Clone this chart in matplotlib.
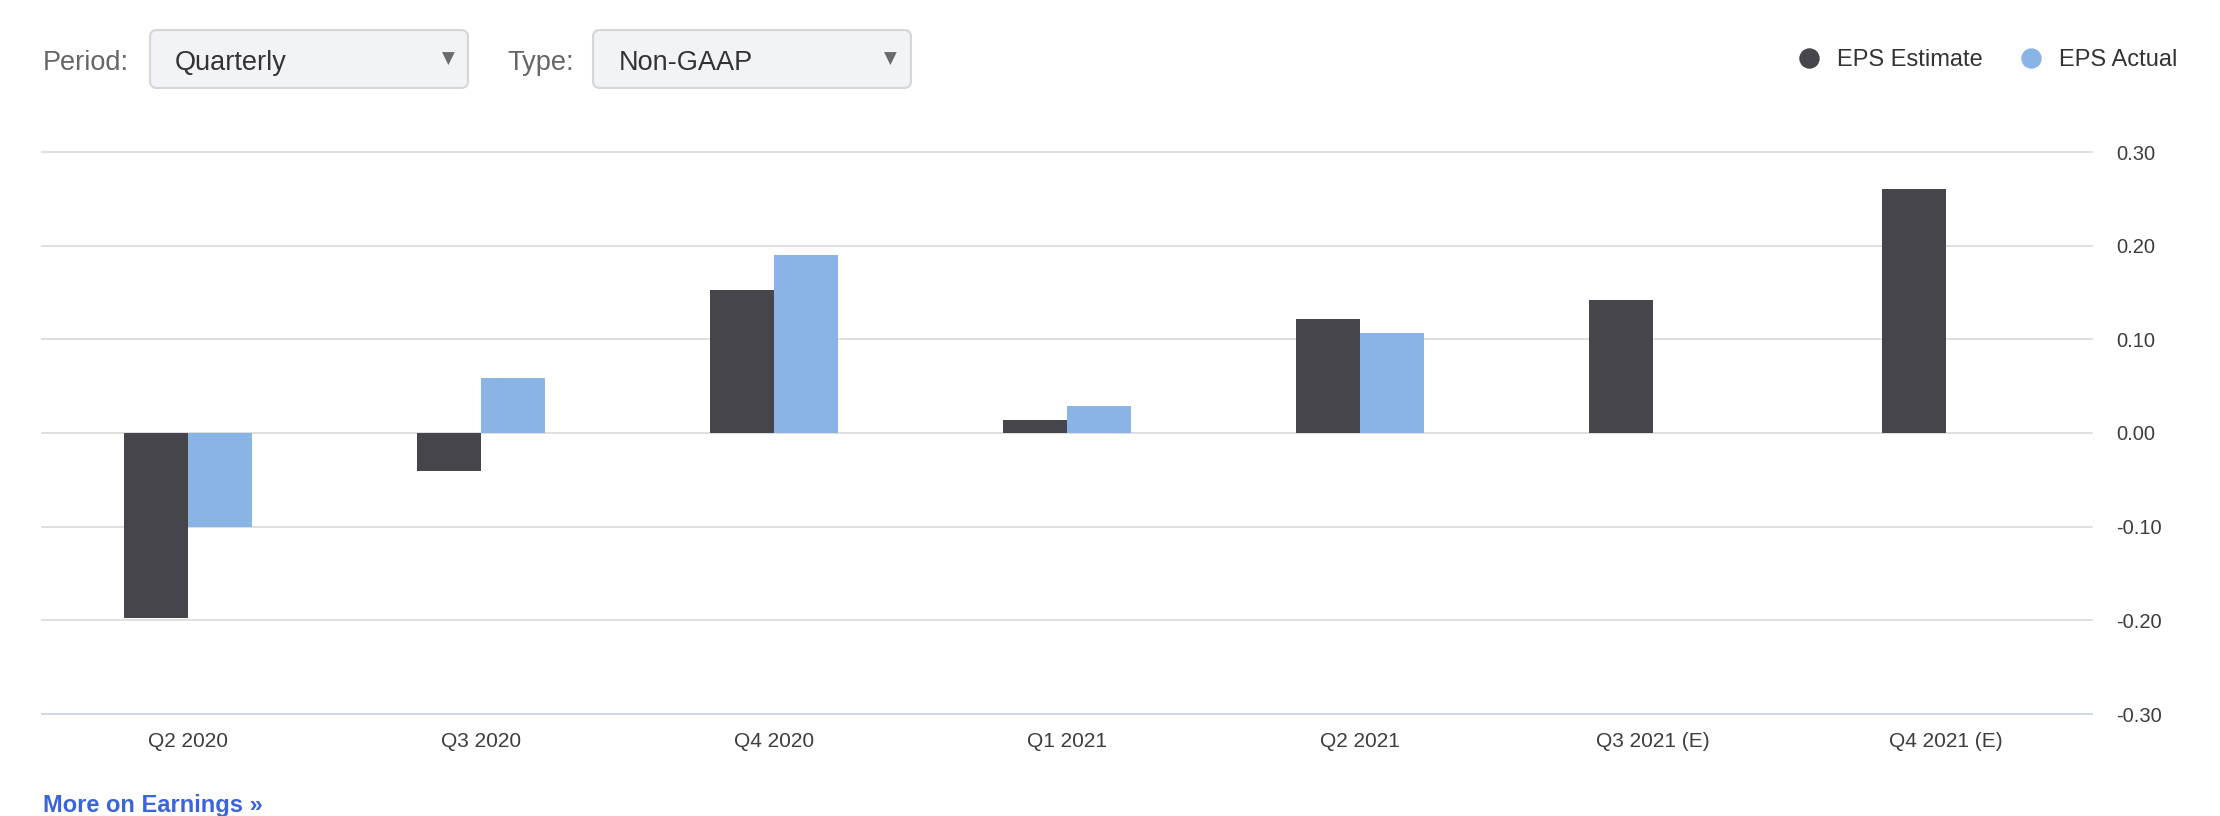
import matplotlib
matplotlib.use('Agg')
import matplotlib.pyplot as plt
import numpy as np
from matplotlib.patches import FancyBboxPatch
from matplotlib.lines import Line2D

# ---- data ----
categories = ["Q2 2020", "Q3 2020", "Q4 2020", "Q1 2021", "Q2 2021", "Q3 2021 (E)", "Q4 2021 (E)"]
eps_estimate = [-0.197, -0.041, 0.153, 0.014, 0.122, 0.142, 0.261]
eps_actual = [-0.100, 0.059, 0.190, 0.029, 0.107, np.nan, np.nan]
y_ticks = [-0.30, -0.20, -0.10, 0.00, 0.10, 0.20, 0.30]
series_names = ["EPS Estimate", "EPS Actual"]
period_label = "Period:"
period_value = "Quarterly"
type_label = "Type:"
type_value = "Non-GAAP"
link_text = "More on Earnings »"

# ---- style ----
W, H = 2220, 816
plt.rcParams['font.family'] = ['Liberation Sans', 'DejaVu Sans']
c_est = '#45454b'
c_act = '#8ab4e6'
c_text = '#3d3d3d'

fig = plt.figure(figsize=(W / 100, H / 100), dpi=100)
fig.patch.set_facecolor('white')

# overlay in pixel coordinates for the UI controls
ov = fig.add_axes([0, 0, 1, 1])
ov.set_xlim(0, W)
ov.set_ylim(H, 0)
ov.axis('off')

# main chart axes
ax = fig.add_axes([42 / W, 1 - 714 / H, (2092 - 42) / W, (714 - 152) / H])
ax.set_facecolor('none')
x = np.arange(len(categories))
bw = 0.2185
ax.bar(x - bw / 2, eps_estimate, bw, color=c_est, zorder=3)
ax.bar(x + bw / 2, eps_actual, bw, color=c_act, zorder=3)
ax.set_xlim(-0.5, len(categories) - 0.5)
ax.set_ylim(-0.30, 0.30)
ax.set_yticks(y_ticks)
ax.set_yticklabels([f'{v:.2f}' for v in y_ticks])
ax.yaxis.tick_right()
ax.tick_params(axis='y', length=0, pad=17.6, labelsize=14.5, labelcolor=c_text)
ax.set_xticks(x)
ax.set_xticklabels(categories)
ax.tick_params(axis='x', length=0, pad=12.8, labelsize=15, labelcolor=c_text)
ax.set_axisbelow(True)
ax.grid(axis='y', color='#d9d9d9', linewidth=1.2)
ax.grid(axis='x', visible=False)
for gl in ax.get_ygridlines():
    gl.set_clip_on(False)
for s in ['top', 'left', 'right']:
    ax.spines[s].set_visible(False)
ax.spines['bottom'].set_color('#ccd6eb')
ax.spines['bottom'].set_linewidth(1.2)
ax.spines['bottom'].set_zorder(2.6)

# legend
handles = [Line2D([], [], marker='o', ls='none', color=c, markersize=13.7)
           for c in (c_est, c_act)]
leg = ax.legend(handles, series_names, loc='center right',
                bbox_to_anchor=(2177 / W, 1 - 60 / H), bbox_transform=fig.transFigure,
                ncol=2, frameon=False, fontsize=17, handlelength=0.8,
                handletextpad=0.79, columnspacing=1.64, borderaxespad=0, borderpad=0)
for t in leg.get_texts():
    t.set_color('#333333')

# UI controls
def dropdown(label, lx, bx, value, vx, arrow_x):
    ov.text(lx, 70, label, fontsize=19.5, color='#666666', ha='left', va='baseline')
    ov.add_patch(FancyBboxPatch((bx, 30), 318, 58,
                                boxstyle='round,pad=0,rounding_size=7',
                                fc='#f2f3f7', ec='#d6d6d6', lw=1.5))
    ov.text(vx, 70, value, fontsize=19.5, color='#333333', ha='left', va='baseline')
    ov.text(arrow_x, 59, '▼', fontsize=12, color='#6b6b6b', ha='center', va='center',
            family=['DejaVu Sans'])

dropdown(period_label, 43, 150, period_value, 175, 448)
dropdown(type_label, 507, 593, type_value, 619, 890)

ov.text(43, 812, link_text, fontsize=17, fontweight='bold', color='#3a64d8',
        ha='left', va='baseline')

fig.savefig('out.png', dpi=100, facecolor='white')
